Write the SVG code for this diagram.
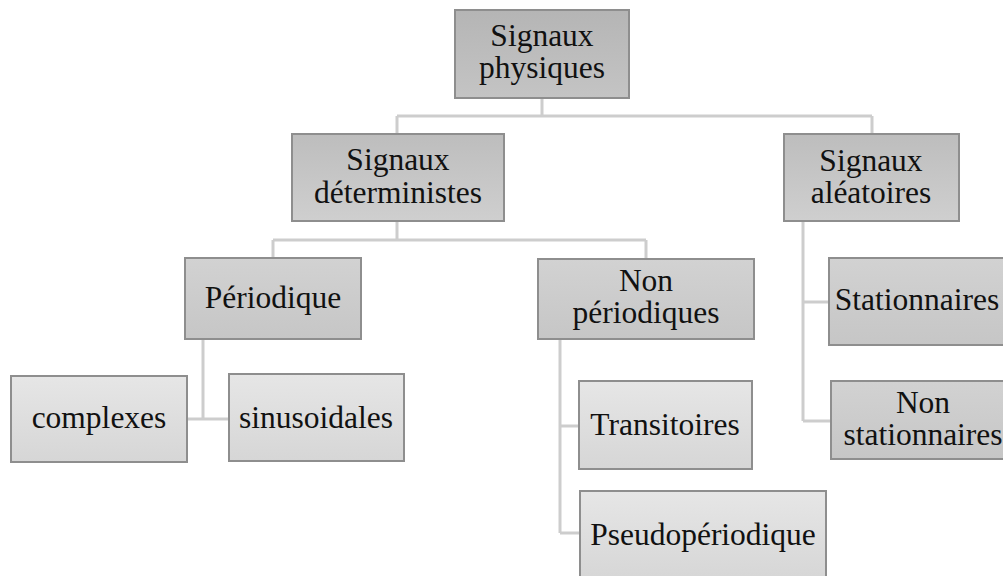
<svg xmlns="http://www.w3.org/2000/svg" width="1003" height="576" viewBox="0 0 1003 576">
<defs>
<linearGradient id="g0" x1="0" y1="0" x2="0" y2="1"><stop offset="0" stop-color="#b5b5b5"/><stop offset="1" stop-color="#c4c4c4"/></linearGradient>
<linearGradient id="g1" x1="0" y1="0" x2="0" y2="1"><stop offset="0" stop-color="#bdbdbd"/><stop offset="1" stop-color="#cfcfcf"/></linearGradient>
<linearGradient id="g2" x1="0" y1="0" x2="0" y2="1"><stop offset="0" stop-color="#d2d2d2"/><stop offset="1" stop-color="#c6c6c6"/></linearGradient>
<linearGradient id="g3" x1="0" y1="0" x2="0" y2="1"><stop offset="0" stop-color="#e6e6e6"/><stop offset="1" stop-color="#d6d6d6"/></linearGradient>
</defs>
<style>
rect{stroke:#8e8e8e;stroke-width:2}
.l0{fill:url(#g0)} .l1{fill:url(#g1)} .l2{fill:url(#g2)} .l3{fill:url(#g3)}
text{font-family:'Liberation Serif','Times New Roman',serif;font-size:31.5px;fill:#111;text-anchor:middle}
#connectors path{fill:none;stroke:#cdcdcd;stroke-width:3}
</style>
<rect width="1003" height="576" fill="#fff" style="stroke:none"/>
<g id="connectors">
<path d="M542 99V116M397 116H872M397 116V134M872 116V134"/>
<path d="M397 221V240M273 240H646M273 240V258M646 240V258"/>
<path d="M803 221V421M803 302H829M803 421H831"/>
<path d="M203 339V419M187 419H229"/>
<path d="M560 339V533M560 426H579M560 533H580"/>
</g>
<g id="n-physiques"><rect class="l0" x="455" y="10" width="174" height="88"/><text x="542" y="46">Signaux</text><text x="542" y="78">physiques</text></g>
<g id="n-deterministes"><rect class="l1" x="292" y="134" width="212" height="87"/><text x="398" y="170">Signaux</text><text x="398" y="203">déterministes</text></g>
<g id="n-aleatoires"><rect class="l1" x="784" y="134" width="175" height="87"/><text x="871" y="171">Signaux</text><text x="871" y="203">aléatoires</text></g>
<g id="n-periodique"><rect class="l2" x="185" y="258" width="176" height="81"/><text x="273" y="308">Périodique</text></g>
<g id="n-nonperiodiques"><rect class="l2" x="538" y="259" width="216" height="80"/><text x="646" y="291">Non</text><text x="646" y="323">périodiques</text></g>
<g id="n-stationnaires"><rect class="l2" x="829" y="258" width="178" height="87"/><text x="917" y="310">Stationnaires</text></g>
<g id="n-nonstationnaires"><rect class="l2" x="831" y="381" width="184" height="78"/><text x="923" y="413">Non</text><text x="923" y="445">stationnaires</text></g>
<g id="n-complexes"><rect class="l3" x="11" y="376" width="176" height="86"/><text x="99" y="428">complexes</text></g>
<g id="n-sinusoidales"><rect class="l3" x="229" y="374" width="175" height="87"/><text x="316" y="428">sinusoidales</text></g>
<g id="n-transitoires"><rect class="l3" x="579" y="381" width="173" height="88"/><text x="665" y="435">Transitoires</text></g>
<g id="n-pseudo"><rect class="l3" x="580" y="491" width="246" height="90"/><text x="703" y="545">Pseudopériodique</text></g>
</svg>
